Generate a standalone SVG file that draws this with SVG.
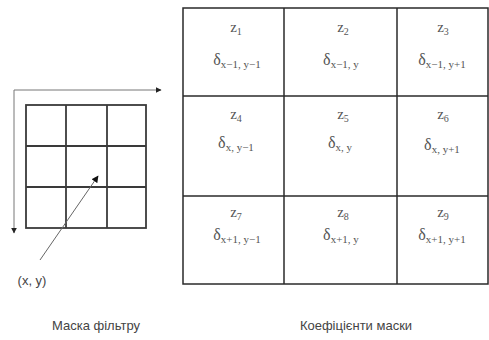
<svg xmlns="http://www.w3.org/2000/svg" width="489" height="340" viewBox="0 0 489 340">
<defs>
<style>
.tbl{fill:none;stroke:#2a2a2a;stroke-width:1.5}
.grid{fill:none;stroke:#3a3a3a;stroke-width:1.8}
.axis{stroke:#777;stroke-width:1;fill:none}
.ptr{stroke:#666;stroke-width:1;fill:none}
.z{font-family:"Liberation Serif",serif;font-size:15px;fill:#555;text-anchor:middle}
.d{font-family:"Liberation Serif",serif;font-size:16px;fill:#555;text-anchor:middle}
.zs{font-size:10px}
.ds{font-size:11px}
.lbl{font-family:"Liberation Sans",sans-serif;font-size:13px;fill:#444;text-anchor:middle}
</style>
<marker id="ah" viewBox="0 0 10 10" refX="9" refY="5" markerWidth="6" markerHeight="6" orient="auto" markerUnits="userSpaceOnUse">
<path d="M0,0 L10,5 L0,10 z" fill="#222"/>
</marker>
<marker id="ah2" viewBox="0 0 10 10" refX="9" refY="5" markerWidth="7" markerHeight="7" orient="auto" markerUnits="userSpaceOnUse">
<path d="M0,0 L10,5 L0,10 z" fill="#111"/>
</marker>
</defs>
<rect width="489" height="340" fill="#fff"/>

<g id="mask">
<rect class="grid" x="26" y="105" width="120" height="123"/>
<line class="grid" x1="66" y1="105" x2="66" y2="228"/>
<line class="grid" x1="107" y1="105" x2="107" y2="228"/>
<line class="grid" x1="26" y1="146" x2="146" y2="146"/>
<line class="grid" x1="26" y1="187" x2="146" y2="187"/>
</g>

<g id="connectors">
<line class="axis" x1="14" y1="90" x2="161" y2="90" marker-end="url(#ah)"/>
<line class="axis" x1="14" y1="90" x2="14" y2="233" marker-end="url(#ah)"/>
<line class="ptr" x1="40" y1="260" x2="98" y2="176" marker-end="url(#ah2)"/>
</g>

<g id="xy-label">
<text class="lbl" x="32" y="285">(x, y)</text>
</g>

<g id="coeff-table">
<rect class="tbl" x="183" y="8" width="305" height="276"/>
<line class="tbl" x1="284" y1="8" x2="284" y2="284"/>
<line class="tbl" x1="397" y1="8" x2="397" y2="284"/>
<line class="tbl" x1="183" y1="96" x2="488" y2="96"/>
<line class="tbl" x1="183" y1="196" x2="488" y2="196"/>
</g>

<g id="cell-1">
<text class="z" x="236" y="32">z<tspan class="zs" dy="3">1</tspan></text>
<text class="d" x="237" y="65">δ<tspan class="ds" dy="3">x−1, y−1</tspan></text>
</g>
<g id="cell-2">
<text class="z" x="343" y="32">z<tspan class="zs" dy="3">2</tspan></text>
<text class="d" x="341" y="65">δ<tspan class="ds" dy="3">x−1, y</tspan></text>
</g>
<g id="cell-3">
<text class="z" x="443" y="32">z<tspan class="zs" dy="3">3</tspan></text>
<text class="d" x="442" y="65">δ<tspan class="ds" dy="3">x−1, y+1</tspan></text>
</g>
<g id="cell-4">
<text class="z" x="236" y="119">z<tspan class="zs" dy="3">4</tspan></text>
<text class="d" x="236" y="148">δ<tspan class="ds" dy="3">x, y−1</tspan></text>
</g>
<g id="cell-5">
<text class="z" x="343" y="119">z<tspan class="zs" dy="3">5</tspan></text>
<text class="d" x="340" y="148">δ<tspan class="ds" dy="3">x, y</tspan></text>
</g>
<g id="cell-6">
<text class="z" x="443" y="119">z<tspan class="zs" dy="3">6</tspan></text>
<text class="d" x="442" y="150">δ<tspan class="ds" dy="3">x, y+1</tspan></text>
</g>
<g id="cell-7">
<text class="z" x="236" y="217">z<tspan class="zs" dy="3">7</tspan></text>
<text class="d" x="237" y="240">δ<tspan class="ds" dy="3">x+1, y−1</tspan></text>
</g>
<g id="cell-8">
<text class="z" x="343" y="217">z<tspan class="zs" dy="3">8</tspan></text>
<text class="d" x="341" y="240">δ<tspan class="ds" dy="3">x+1, y</tspan></text>
</g>
<g id="cell-9">
<text class="z" x="443" y="217">z<tspan class="zs" dy="3">9</tspan></text>
<text class="d" x="442" y="240">δ<tspan class="ds" dy="3">x+1, y+1</tspan></text>
</g>

<g id="captions">
<text class="lbl" x="96" y="330">Маска фільтру</text>
<text class="lbl" x="356" y="330">Коефіцієнти маски</text>
</g>
</svg>
